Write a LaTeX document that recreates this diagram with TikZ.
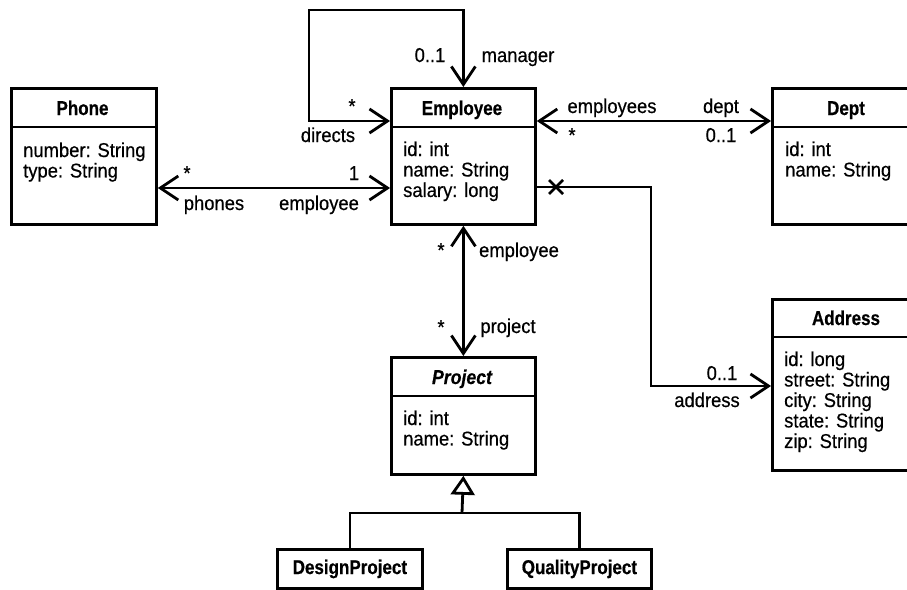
\documentclass[tikz,border=0pt]{standalone}
\usepackage{fontspec}
\setmainfont{Liberation Sans}[FakeStretch=0.92,FakeBold=0.5,BoldFeatures={FakeStretch=0.85},BoldItalicFeatures={FakeStretch=0.885}]
\usetikzlibrary{arrows.meta}
\newcommand\fs{\fontsize{20}{20}\selectfont}
\newcommand\attr[1]{\begin{tabular}[t]{@{}l@{}}#1\end{tabular}}
\tikzset{
  every node/.style={inner sep=0pt},
  nv/.tip={Straight Barb[length=18pt,width=24pt]},
  classbox/.style={draw, line width=2.8pt, anchor=north west},
  sepline/.style={line width=2.4pt},
  ctitle/.style={font=\fs\bfseries, anchor=base},
  cattr/.style={font=\fs, anchor=base west},
  lbl/.style={font=\fs, anchor=base},
  assoc/.style={line width=2.8pt},
  subbox/.style={draw, line width=2.8pt, anchor=north west, font=\fs\bfseries, minimum height=39pt}
}
\begin{document}
\begin{tikzpicture}[x=1pt,y=-1pt]
\useasboundingbox (0,0) rectangle (907,589);
\clip (0,0) rectangle (907,589);

% class boxes
\node[classbox, minimum width=145pt, minimum height=136pt] (phone) at (10,87) {};
\node[classbox, minimum width=144pt, minimum height=136pt] (emp) at (390,87) {};
\node[classbox, minimum width=150pt, minimum height=136pt] (dept) at (771,87) {};
\node[classbox, minimum width=150pt, minimum height=171pt] (addr) at (771,298) {};
\node[classbox, minimum width=144pt, minimum height=117pt] (proj) at (390,356) {};
\node[subbox, minimum width=145pt] (dp) at (276,548) {DesignProject};
\node[subbox, minimum width=144pt] (qp) at (506,548) {QualityProject};

% separators
\draw[sepline] (phone.west |- 0,127) -- (phone.east |- 0,127);
\draw[sepline] (emp.west |- 0,127) -- (emp.east |- 0,127);
\draw[sepline] (dept.west |- 0,127) -- (dept.east |- 0,127);
\draw[sepline] (addr.west |- 0,337) -- (addr.east |- 0,337);
\draw[sepline] (proj.west |- 0,396) -- (proj.east |- 0,396);

% titles
\node[ctitle] (phoneT) at (82.5,115) {Phone};
\node[ctitle] (empT) at (462,115) {Employee};
\node[ctitle] (deptT) at (846,115) {Dept};
\node[ctitle] (addrT) at (846,325) {Address};
\node[ctitle] (projT) at (462,384) {\itshape Project};

% attributes
\node[cattr] (phoneA) at (23,157) {\attr{number: String\\type: String}};
\node[cattr] (empA) at (403,156) {\attr{id: int\\name: String\\salary: long}};
\node[cattr] (deptA) at (785,156) {\attr{id: int\\name: String}};
\node[cattr] (addrA) at (784,366) {\attr{id: long\\street: String\\city: String\\state: String\\zip: String}};
\node[cattr] (projA) at (403,425) {\attr{id: int\\name: String}};

% connectors
\coordinate (loopc) at (309,10);
\draw[assoc, nv-nv] (emp.north) |- (loopc) |- (emp.west |- 0,121);
\draw[assoc, nv-nv] (phone.east |- 0,188) -- (emp.west |- 0,188);
\draw[assoc, nv-nv] (emp.east |- 0,121) -- (dept.west |- 0,121);
\coordinate (acorner) at (651,386);
\draw[assoc, -nv] (emp.east |- 0,187) -| (acorner) -- (addr.west |- acorner);
\coordinate (xm) at (556,187);
\draw[assoc] ([shift={(-7,-7)}]xm) -- ([shift={(7,7)}]xm)
             ([shift={(-7,7)}]xm) -- ([shift={(7,-7)}]xm);
\draw[assoc, nv-nv] (emp.south) -- (proj.north);
\coordinate (bus) at (462,513);
\draw[assoc] (dp.north) |- (bus) -| (qp.north);
\draw[assoc, -{Triangle[length=19pt,width=24pt,fill=white]}] (bus) -- (proj.south);

% labels
\node[lbl] (l1) at (187,180) {*};
\node[lbl] (l2) at (354,180) {1};
\node[lbl] (l3) at (214,210) {phones};
\node[lbl] (l4) at (319,210) {employee};
\node[lbl] (l5) at (328,142) {directs};
\node[lbl] (l6) at (352,113) {*};
\node[lbl] (l7) at (430,62) {0..1};
\node[lbl] (l8) at (518,62) {manager};
\node[lbl] (l9) at (612,113) {employees};
\node[lbl] (l10) at (572,142) {*};
\node[lbl] (l11) at (721,113) {dept};
\node[lbl] (l12) at (721,142) {0..1};
\node[lbl] (l13) at (722,380) {0..1};
\node[lbl] (l14) at (707,407) {address};
\node[lbl] (l15) at (441,257) {*};
\node[lbl] (l16) at (519,257) {employee};
\node[lbl] (l17) at (441,334) {*};
\node[lbl] (l18) at (508,333) {project};
\end{tikzpicture}
\end{document}
